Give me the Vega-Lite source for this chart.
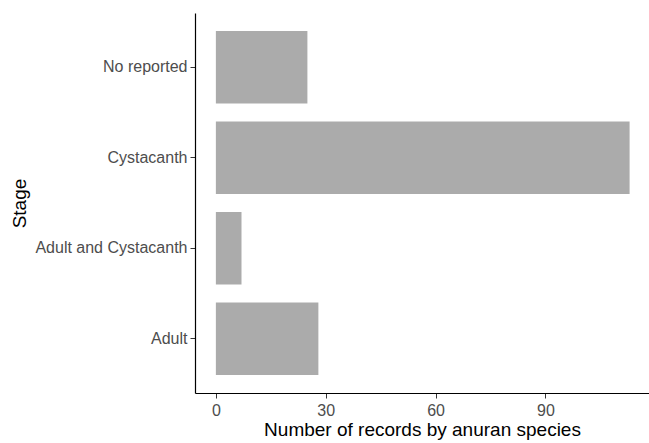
{
  "$schema": "https://vega.github.io/schema/vega-lite/v6.json",
  "width": 454,
  "height": 380,
  "autosize": {"type": "none"},
  "padding": {"left": 195, "top": 13, "right": 0, "bottom": 50},
  "background": "white",
  "config": {
    "view": {"stroke": null},
    "font": "Liberation Sans"
  },
  "data": {
    "values": [
      {"stage": "No reported", "n": 25},
      {"stage": "Cystacanth", "n": 113},
      {"stage": "Adult and Cystacanth", "n": 7},
      {"stage": "Adult", "n": 28}
    ]
  },
  "mark": {"type": "bar", "color": "#ababab", "clip": true},
  "encoding": {
    "y": {
      "field": "stage",
      "type": "nominal",
      "sort": ["No reported", "Cystacanth", "Adult and Cystacanth", "Adult"],
      "scale": {"paddingInner": 0.2, "paddingOuter": 0.2},
      "axis": {
        "title": "Stage",
        "titleFont": "Liberation Sans",
        "titleFontSize": 19,
        "titleFontWeight": "normal",
        "titleColor": "#000000",
        "titlePadding": 5,
        "labelFontSize": 16,
        "labelColor": "#4d4d4d",
        "labelPadding": 3,
        "tickSize": 5,
        "tickColor": "#333333",
        "domainColor": "#000000",
        "domainWidth": 1.2,
        "grid": false
      }
    },
    "x": {
      "field": "n",
      "type": "quantitative",
      "scale": {"domain": [-5.7, 118.3], "zero": false, "nice": false},
      "axis": {
        "title": "Number of records by anuran species",
        "titleFontSize": 19,
        "titleFontWeight": "normal",
        "titleColor": "#000000",
        "titlePadding": 2,
        "values": [0, 30, 60, 90],
        "labelFontSize": 16,
        "labelColor": "#4d4d4d",
        "labelPadding": 4,
        "tickSize": 5,
        "tickColor": "#333333",
        "domainColor": "#000000",
        "domainWidth": 1.2,
        "grid": false
      }
    },
    "x2": {"datum": 0}
  }
}
